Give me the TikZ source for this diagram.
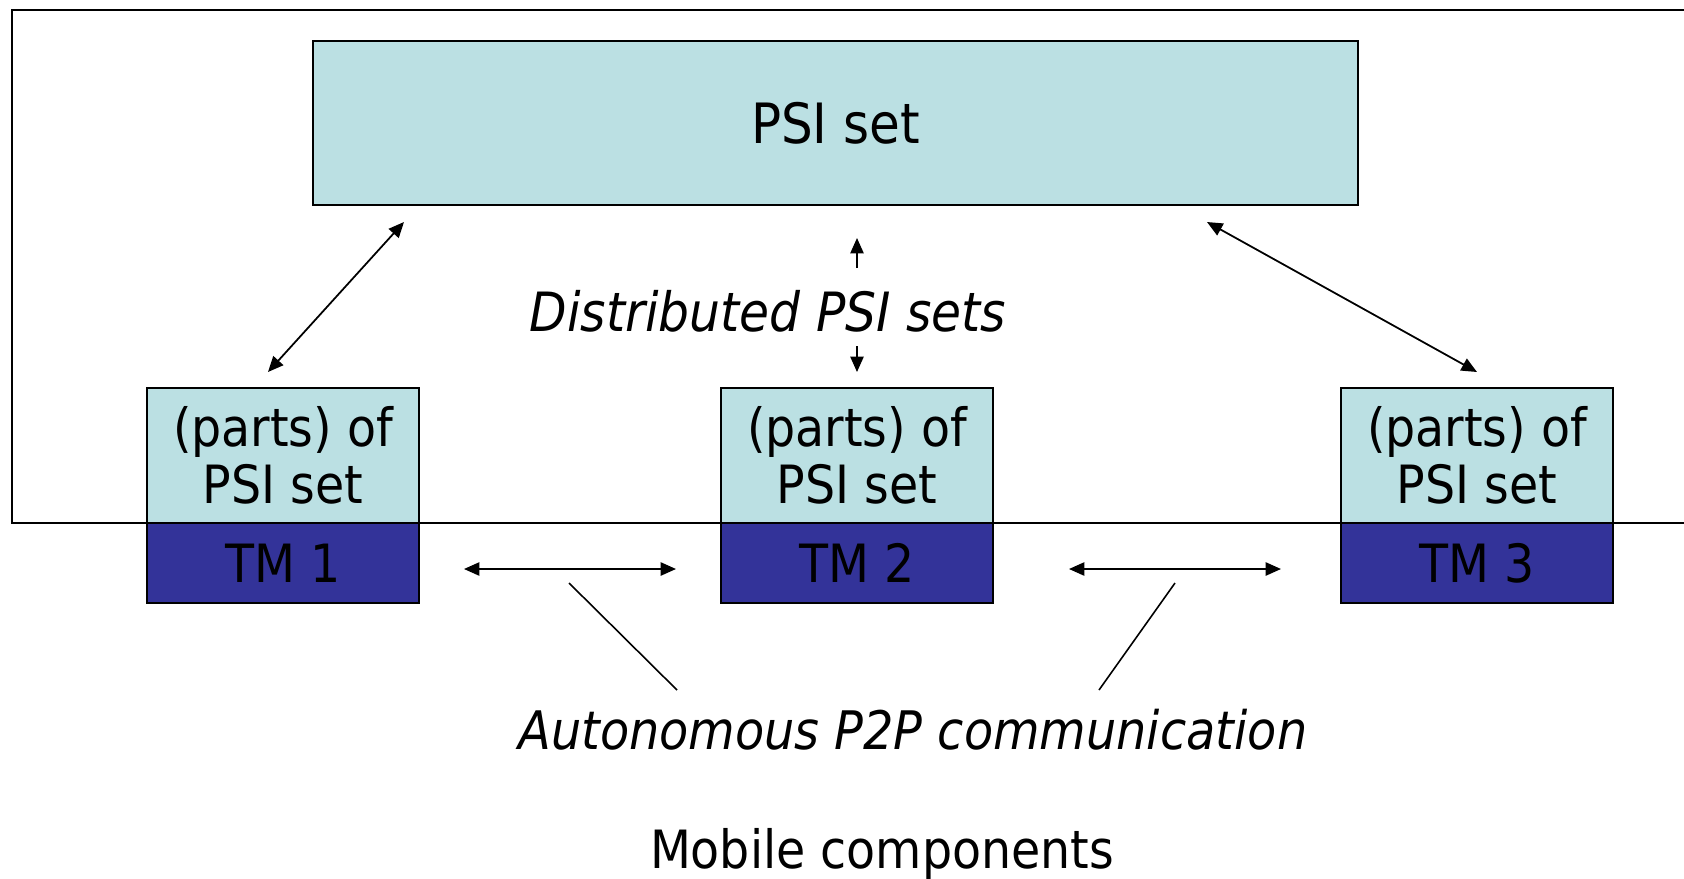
\documentclass[tikz,border=0pt]{standalone}
\usepackage{fontspec}
\setmainfont{DejaVu Sans Condensed}
\usetikzlibrary{arrows.meta}
\definecolor{lightbox}{HTML}{BBE0E3}
\definecolor{darkbox}{HTML}{333399}
\tikzset{
  lbox/.style={draw=black, line width=0.5pt, fill=lightbox, minimum width=272*0.2845pt, minimum height=135*0.2845pt, inner sep=0pt, align=center, font=\fontsize{15}{16.3}\selectfont},
  dbox/.style={draw=black, line width=0.5pt, fill=darkbox, minimum width=272*0.2845pt, minimum height=80*0.2845pt, inner sep=0pt, font=\fontsize{15}{16.3}\selectfont},
  dbl/.style={{Triangle[length=4.4pt,width=3.8pt]}-{Triangle[length=4.4pt,width=3.8pt]}, line width=0.5pt},
  sgl/.style={-{Triangle[length=4.4pt,width=3.8pt]}, line width=0.5pt},
  plain/.style={line width=0.45pt},
  lbl/.style={font=\fontsize{15}{18}\selectfont, inner sep=0pt}
}
\begin{document}
\begin{tikzpicture}[x=0.01cm, y=-0.01cm]
\useasboundingbox (0,0) rectangle (1684,878);
\draw[line width=0.6pt] (1684,10) -- (12,10) -- (12,523) -- (1684,523);
\node[lbox, minimum width=1045*0.2845pt, minimum height=164*0.2845pt, font=\fontsize{15.8}{18}\selectfont] (psi) at (835.5,123) {PSI set};
\node[lbox] (p1) at (283,455.5) {(parts) of\\PSI set};
\node[dbox] (t1) at (283,563) {TM 1};
\node[lbox] (p2) at (857,455.5) {(parts) of\\PSI set};
\node[dbox] (t2) at (857,563) {TM 2};
\node[lbox] (p3) at (1477,455.5) {(parts) of\\PSI set};
\node[dbox] (t3) at (1477,563) {TM 3};
\node[lbl, font=\fontsize{15.4}{18}\selectfont\itshape] (dist) at (768,311) {Distributed PSI sets};
\node[lbl, font=\fontsize{15.1}{18}\selectfont\itshape] (auto) at (913,730) {Autonomous P2P communication};
\node[lbl] (mob) at (882,854) {Mobile components};
\coordinate (a1s) at (268,372);
\coordinate (a1e) at (404,222);
\coordinate (a3s) at (1207,222);
\coordinate (a3e) at (1477,372);
\coordinate (u1) at (857,268);
\coordinate (u2) at (857,238);
\coordinate (d1) at (857,346);
\coordinate (d2) at (857,372);
\coordinate (h1a) at (464,569);
\coordinate (h1b) at (676,569);
\coordinate (h2a) at (1069,569);
\coordinate (h2b) at (1281,569);
\coordinate (l1a) at (569,583);
\coordinate (l1b) at (677,690);
\coordinate (l2a) at (1175,583);
\coordinate (l2b) at (1099,690);
\draw[dbl] (a1s) -- (a1e);
\draw[dbl] (a3s) -- (a3e);
\draw[sgl] (u1) -- (u2);
\draw[sgl] (d1) -- (d2);
\draw[dbl] (h1a) -- (h1b);
\draw[dbl] (h2a) -- (h2b);
\draw[plain] (l1a) -- (l1b);
\draw[plain] (l2a) -- (l2b);
\end{tikzpicture}
\end{document}
